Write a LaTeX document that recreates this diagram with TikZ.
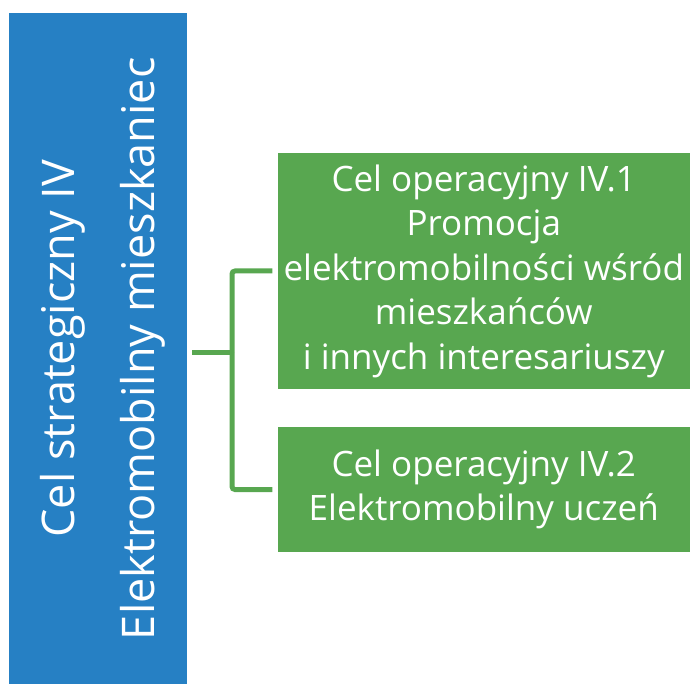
\documentclass[tikz,border=0pt]{standalone}
\usepackage{fontspec}
\setmainfont{Open Sans}
\usetikzlibrary{positioning}

\definecolor{goalblue}{RGB}{38,128,196}
\definecolor{opgreen}{RGB}{88,167,80}

\begin{document}
\begin{tikzpicture}[x=1pt, y=-1pt,
  goalbox/.style={rectangle, fill=goalblue, text=white, align=center, rotate=90, minimum width=670.5pt, minimum height=178pt, inner sep=0pt, font=\fontsize{45}{80}\selectfont},
  opbox/.style={rectangle, fill=opgreen, text=white, align=center, minimum width=412.5pt, inner sep=0pt, font=\fontsize{35}{44.5}\selectfont},
  link/.style={draw=opgreen, line width=5pt, rounded corners=3pt, shorten <=5pt, shorten >=5pt}
]
\useasboundingbox (0,0) rectangle (690,684);

% Strategic goal
\node[goalbox] (goal) at (98, 348.75) {\rule{0pt}{44pt}Cel strategiczny IV\\Elektromobilny mieszkaniec};

% Operational goals
\node[opbox, minimum height=236pt] (op1) at (483.75, 271) {Cel operacyjny IV.1\\Promocja\\elektromobilności wśród\\mieszkańców\\i innych interesariuszy};
\node[opbox, minimum height=125pt] (op2) at (483.75, 489.5) {Cel operacyjny IV.2\\Elektromobilny uczeń};

% Connectors
\coordinate (fork) at (232, 352);
\draw[link, shorten >=0pt] (goal.south |- fork) -- (fork);
\draw[link, shorten <=0pt] (fork) |- (op1.west);
\draw[link, shorten <=0pt] (fork) |- (op2.west);

\end{tikzpicture}
\end{document}
